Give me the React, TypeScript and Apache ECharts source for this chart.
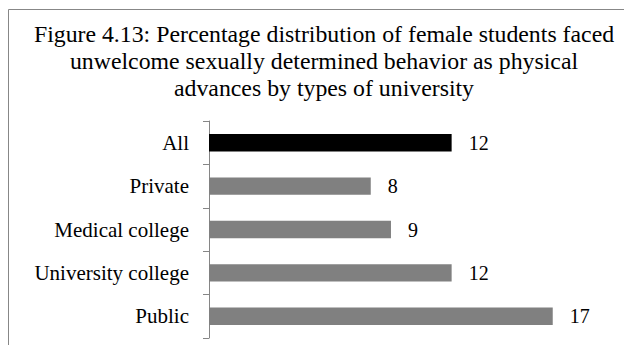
import React, { useEffect, useRef } from "react";
import * as echarts from "echarts";

// Survey results: share of female students reporting unwelcome physical advances
const categories = ["All", "Private", "Medical college", "University college", "Public"];
const percentages = [12, 8, 9, 12, 17];
const titleLines = [
  "Figure 4.13: Percentage distribution of female students faced",
  "unwelcome sexually determined behavior as physical",
  "advances by types of university",
];

const FONT = "Liberation Serif";

export default function App() {
  const ref = useRef<HTMLDivElement>(null);

  useEffect(() => {
    if (!ref.current) return;
    const chart = echarts.init(ref.current, null, { renderer: "svg" });
    chart.setOption({
      animation: false,
      backgroundColor: "#ffffff",
      graphic: [
        {
          type: "rect",
          shape: { x: 0.5, y: 1.5, width: 800, height: 500 },
          style: { fill: "none", stroke: "#878787", lineWidth: 1 },
          silent: true,
        },
        {
          type: "text",
          x: 316,
          y: 12.5,
          style: {
            text: titleLines.join("\n"),
            fontFamily: FONT,
            fontSize: 23.8,
            fill: "#000000",
            align: "center",
            verticalAlign: "top",
            lineHeight: 27,
          },
          silent: true,
        },
      ],
      grid: { left: 201, right: 18.6, top: 113, bottom: 7, containLabel: false },
      xAxis: {
        type: "value",
        min: 0,
        max: 20,
        show: false,
      },
      yAxis: {
        type: "category",
        data: categories,
        inverse: true,
        axisLine: { show: true, lineStyle: { color: "#868686", width: 1 } },
        axisTick: { show: true, length: 6, lineStyle: { color: "#868686" } },
        axisLabel: {
          margin: 20,
          color: "#000000",
          fontFamily: FONT,
          fontSize: 21,
        },
        splitLine: { show: false },
      },
      series: [
        {
          type: "bar",
          data: percentages.map((v, i) => ({
            value: v,
            itemStyle: { color: categories[i] === "All" ? "#000000" : "#808080" },
          })),
          barCategoryGap: "60%",
          label: {
            show: true,
            position: "right",
            distance: 17,
            color: "#000000",
            fontFamily: FONT,
            fontSize: 20,
          },
        },
      ],
    });
    return () => chart.dispose();
  }, []);

  return <div ref={ref} style={{ width: 624, height: 337 }} />;
}
